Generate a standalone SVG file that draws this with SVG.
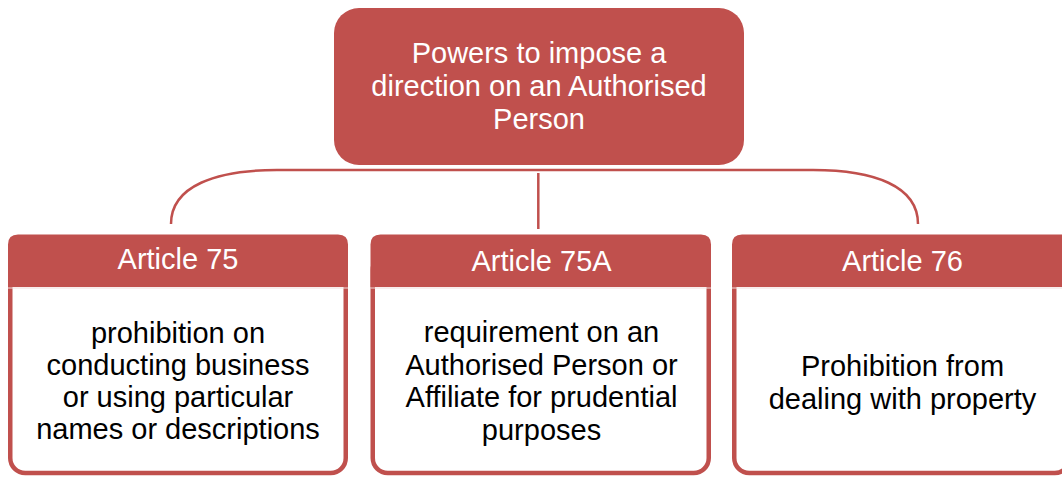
<svg xmlns="http://www.w3.org/2000/svg" width="1062" height="477" viewBox="0 0 1062 477">
<style>
  .red { fill: #C0504D; }
  .body { fill: #FFFFFF; stroke: #C0504D; stroke-width: 4.5; }
  .conn { fill: none; stroke: #C0504D; stroke-width: 2.5; }
  .wt { fill: #FFFFFF; font-family: "Liberation Sans", Arial, sans-serif; font-size: 29px; text-anchor: middle; }
  .bt { fill: #000000; font-family: "Liberation Sans", Arial, sans-serif; font-size: 29px; text-anchor: middle; }
</style>
<rect width="1062" height="477" fill="#FFFFFF"/>
<g id="connectors">
  <path class="conn" d="M171,224 C171,186 216,170 277,170 L813,170 C874,170 918,186 918,224"/>
  <line class="conn" x1="538.3" y1="173" x2="538.3" y2="229" stroke-width="2.7"/>
</g>
<g id="root">
  <rect class="red" x="334" y="8" width="410" height="157" rx="25" ry="25"/>
  <text class="wt" x="539" y="63">Powers to impose a</text>
  <text class="wt" x="539" y="96">direction on an Authorised</text>
  <text class="wt" x="539" y="129">Person</text>
</g>
<g id="article75">
  <rect class="body" x="10.25" y="255" width="335.5" height="218" rx="15" ry="15"/>
  <path class="red" d="M8,287 L8,244.5 Q8,234.5 18,234.5 L338,234.5 Q348,234.5 348,244.5 L348,287 Z"/>
  <line x1="8" y1="288" x2="348" y2="288" stroke="#F2DCDB" stroke-width="1.2"/>
  <text class="wt" x="178" y="269">Article 75</text>
  <text class="bt" x="178" y="343">prohibition on</text>
  <text class="bt" x="178" y="375">conducting business</text>
  <text class="bt" x="178" y="407">or using particular</text>
  <text class="bt" x="178" y="439">names or descriptions</text>
</g>
<g id="article75A">
  <rect class="body" x="372.75" y="255" width="336" height="218" rx="15" ry="15"/>
  <path class="red" d="M370.5,287 L370.5,244.5 Q370.5,234.5 380.5,234.5 L701,234.5 Q711,234.5 711,244.5 L711,287 Z"/>
  <line x1="370.5" y1="288" x2="711" y2="288" stroke="#F2DCDB" stroke-width="1.2"/>
  <text class="wt" x="541.5" y="271">Article 75A</text>
  <text class="bt" x="541.5" y="342">requirement on an</text>
  <text class="bt" x="541.5" y="374.5">Authorised Person or</text>
  <text class="bt" x="541.5" y="407">Affiliate for prudential</text>
  <text class="bt" x="541.5" y="439.5">purposes</text>
</g>
<g id="article76">
  <rect class="body" x="734.25" y="255" width="335.5" height="218" rx="15" ry="15"/>
  <path class="red" d="M732,287 L732,244.5 Q732,234.5 742,234.5 L1062,234.5 Q1072,234.5 1072,244.5 L1072,287 Z"/>
  <line x1="732" y1="288" x2="1072" y2="288" stroke="#F2DCDB" stroke-width="1.2"/>
  <text class="wt" x="902.5" y="271">Article 76</text>
  <text class="bt" x="902.5" y="376">Prohibition from</text>
  <text class="bt" x="902.5" y="409">dealing with property</text>
</g>
</svg>
